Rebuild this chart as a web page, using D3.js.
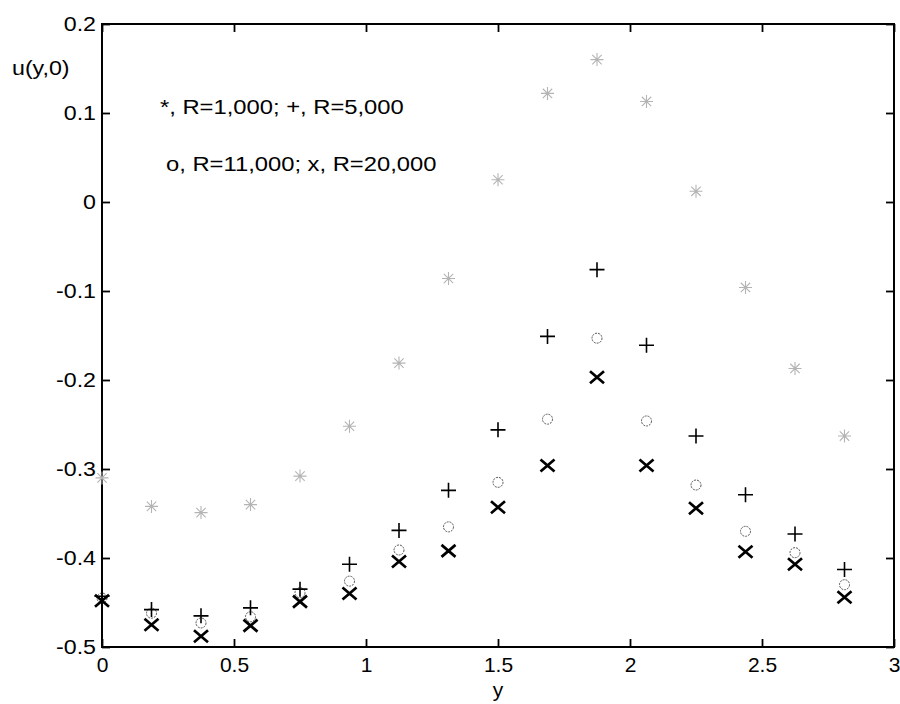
<!DOCTYPE html>
<html>
<head>
<meta charset="utf-8">
<script src="https://cdn.jsdelivr.net/npm/d3@7"></script>
<style>
  html, body { margin: 0; padding: 0; background: #fff; }
  svg { display: block; font-family: "Liberation Sans", Arial, Helvetica, sans-serif; }
</style>
</head>
<body>
<svg id="chart" width="900" height="704"></svg>
<script>
// ---- data ----
const yPos = [0, 0.1875, 0.375, 0.5625, 0.75, 0.9375, 1.125, 1.3125, 1.5, 1.6875, 1.875, 2.0625, 2.25, 2.4375, 2.625, 2.8125];
const uR1000  = [-0.310, -0.342, -0.349, -0.340, -0.308, -0.252, -0.181, -0.086, 0.025, 0.122, 0.160, 0.113, 0.012, -0.096, -0.187, -0.263];
const uR5000  = [-0.443, -0.458, -0.465, -0.456, -0.435, -0.407, -0.369, -0.324, -0.256, -0.151, -0.076, -0.161, -0.263, -0.329, -0.373, -0.413];
const uR11000 = [-0.445, -0.462, -0.473, -0.466, -0.439, -0.426, -0.391, -0.365, -0.315, -0.244, -0.153, -0.246, -0.318, -0.370, -0.394, -0.430];
const uR20000 = [-0.448, -0.475, -0.488, -0.476, -0.449, -0.440, -0.404, -0.392, -0.343, -0.296, -0.197, -0.296, -0.344, -0.393, -0.407, -0.444];
const xTicks = [0, 0.5, 1, 1.5, 2, 2.5, 3];
const xTickLabels = ["0", "0.5", "1", "1.5", "2", "2.5", "3"];
const yTicks = [-0.5, -0.4, -0.3, -0.2, -0.1, 0, 0.1, 0.2];
const yTickLabels = ["-0.5", "-0.4", "-0.3", "-0.2", "-0.1", "0", "0.1", "0.2"];
const legendLines = ["*, R=1,000; +, R=5,000", "o, R=11,000; x, R=20,000"];
const xLabel = "y";
const yLabel = "u(y,0)";

// ---- layout ----
const svg = d3.select("#chart");
const L = 102, R = 894, T = 24, B = 647;
const x = d3.scaleLinear().domain([0, 3]).range([L, R]);
const y = d3.scaleLinear().domain([-0.5, 0.2]).range([B, T]);
const tickLen = 8;
const fontSize = 20;
const stretch = 1.16;   // the scanned lettering is a bit wider than Liberation Sans
const FONT = "'Liberation Sans', Arial, Helvetica, sans-serif";

// frame
svg.append("rect")
  .attr("x", L).attr("y", T).attr("width", R - L).attr("height", B - T)
  .attr("fill", "none").attr("stroke", "#000").attr("stroke-width", 2);

function styleAxis(g, showLabels) {
  g.select(".domain").remove();
  g.selectAll(".tick line").attr("stroke", "#000").attr("stroke-width", 1.8);
  g.selectAll(".tick text")
    .attr("fill", "#000")
    .attr("font-family", FONT)
    .style("display", showLabels ? null : "none");
}

const fmtX = d => xTickLabels[xTicks.indexOf(d)];
const fmtY = d => yTickLabels[yTicks.findIndex(v => Math.abs(v - d) < 1e-9)];

svg.append("g").attr("transform", `translate(0,${B})`)
  .call(d3.axisBottom(x).tickValues(xTicks).tickFormat(fmtX).tickSize(-tickLen).tickPadding(10))
  .call(g => styleAxis(g, true))
  .call(g => g.selectAll(".tick text").attr("font-size", 21));
svg.append("g").attr("transform", `translate(0,${T})`)
  .call(d3.axisTop(x).tickValues(xTicks).tickSize(-tickLen))
  .call(g => styleAxis(g, false));
svg.append("g").attr("transform", `translate(${L},0)`)
  .call(d3.axisLeft(y).tickValues(yTicks).tickFormat(fmtY).tickSize(-tickLen).tickPadding(6))
  .call(g => styleAxis(g, true))
  .call(g => g.selectAll(".tick text")
    .attr("font-size", fontSize)
    .attr("x", -6 / stretch)
    .attr("transform", `scale(${stretch},1)`));
svg.append("g").attr("transform", `translate(${R},0)`)
  .call(d3.axisRight(y).tickValues(yTicks).tickSize(-tickLen))
  .call(g => styleAxis(g, false));

function label(txt, px, py, size, sx, anchor) {
  svg.append("text")
    .attr("transform", `translate(${px},${py}) scale(${sx},1)`)
    .attr("text-anchor", anchor || "start")
    .attr("font-family", FONT)
    .attr("font-size", size).attr("fill", "#000").text(txt);
}

// axis labels
label(xLabel, x(1.5), 697, 21, 1, "middle");
label(yLabel, 12, 75, fontSize, stretch);

// legend text
label(legendLines[0], 160, 114, 20.5, stretch);
label(legendLines[1], 166, 171, 20.5, stretch);

// ---- markers ----
const pts = arr => yPos.map((v, i) => ({ y: v, u: arr[i] }));

// asterisk (R=1000), light gray
const s = 6.5, sd = s * 0.72;
const starPath = `M${-s},0L${s},0M0,${-s}L0,${s}M${-sd},${-sd}L${sd},${sd}M${-sd},${sd}L${sd},${-sd}`;
svg.append("g").selectAll("path").data(pts(uR1000)).join("path")
  .attr("transform", d => `translate(${x(d.y)},${y(d.u)})`)
  .attr("d", starPath)
  .attr("fill", "none").attr("stroke", "#b4b4b4").attr("stroke-width", 1.1);

// circle (R=11000), gray dotted
svg.append("g").selectAll("circle").data(pts(uR11000)).join("circle")
  .attr("cx", d => x(d.y)).attr("cy", d => y(d.u)).attr("r", 5)
  .attr("fill", "none").attr("stroke", "#555").attr("stroke-width", 1)
  .attr("stroke-dasharray", "2,1");

// plus (R=5000), black
const p = 7.5;
svg.append("g").selectAll("path").data(pts(uR5000)).join("path")
  .attr("transform", d => `translate(${x(d.y)},${y(d.u)})`)
  .attr("d", `M${-p},0L${p},0M0,${-p}L0,${p}`)
  .attr("fill", "none").attr("stroke", "#000").attr("stroke-width", 1.6);

// x (R=20000), bold black
const cx = 7, cy = 6;
svg.append("g").selectAll("path").data(pts(uR20000)).join("path")
  .attr("transform", d => `translate(${x(d.y)},${y(d.u)})`)
  .attr("d", `M${-cx},${-cy}L${cx},${cy}M${-cx},${cy}L${cx},${-cy}`)
  .attr("fill", "none").attr("stroke", "#000").attr("stroke-width", 2.7);
</script>
</body>
</html>
